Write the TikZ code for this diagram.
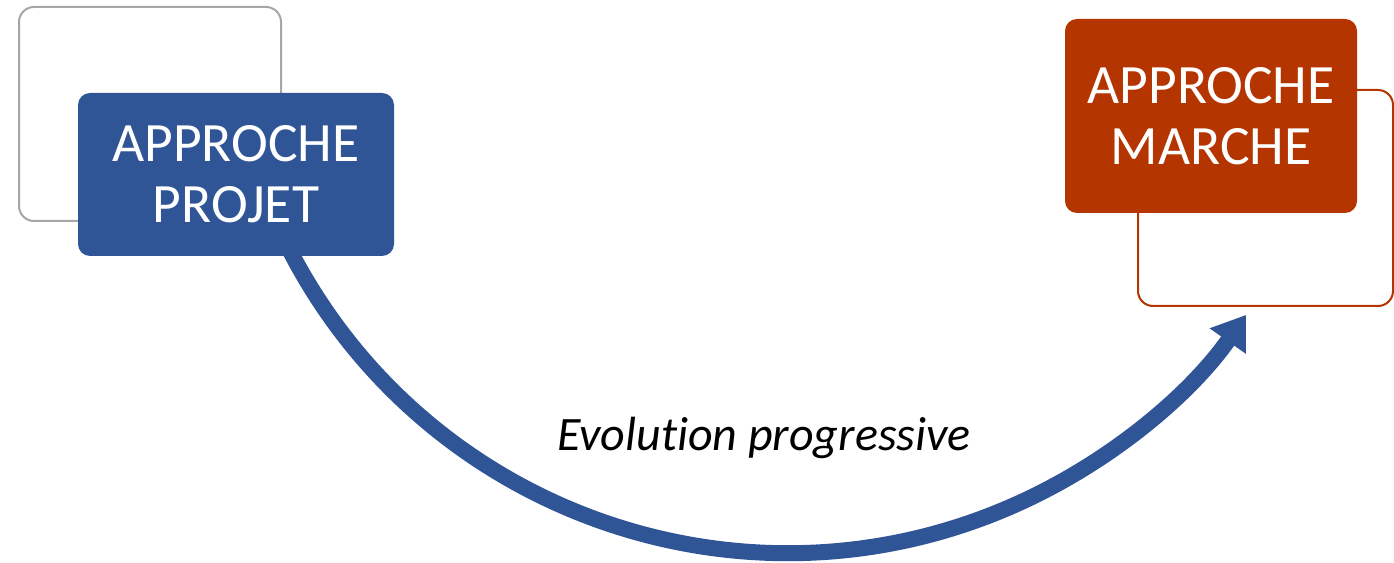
\documentclass[tikz,border=0pt]{standalone}
\usepackage{fontspec}
\setmainfont{Carlito}[Ligatures=NoCommon]
\usetikzlibrary{arrows.meta}
\definecolor{pblue}{HTML}{2F5597}
\definecolor{pred}{HTML}{B43500}
\definecolor{pgray}{HTML}{A6A6A6}
\tikzset{
  boxstyle/.style={rounded corners=12pt, inner sep=0pt, text=white, align=center,
    font=\fontsize{55.5}{61}\selectfont},
  outlinestyle/.style={draw, line width=2pt, rounded corners=15pt, inner sep=0pt, fill=none},
  flow/.style={line width=16pt, draw=pblue, -{Triangle[length=32pt,width=42pt]}}
}
\begin{document}
\begin{tikzpicture}[x=1pt,y=1pt]
\useasboundingbox (0,0) rectangle (1394,562);
% background outlines
\node[outlinestyle, draw=pgray, minimum width=262pt, minimum height=214pt] (gr) at (150,448) {};
\node[outlinestyle, draw=pred, minimum width=255pt, minimum height=216pt] (ro) at (1265.5,364) {};
% curved arrow
\coordinate (ctr) at (787.5,569.4);
\draw[flow] (ctr) ++(206:560.5) coordinate (arcstart) arc[start angle=206, end angle=324.9, radius=560.5] coordinate (arcend);
% main boxes
\node[boxstyle, fill=pblue, minimum width=316pt, minimum height=163pt] (proj) at (236,387.5) {APPROCHE\\PROJET};
\node[boxstyle, fill=pred, minimum width=292pt, minimum height=194pt] (march) at (1211,446) {APPROCHE\\MARCHE};
% label
\node[anchor=base, inner sep=0pt, font=\fontsize{48}{56}\selectfont\itshape] (lbl) at (764,111) {Evolution progressive};
\end{tikzpicture}
\end{document}
